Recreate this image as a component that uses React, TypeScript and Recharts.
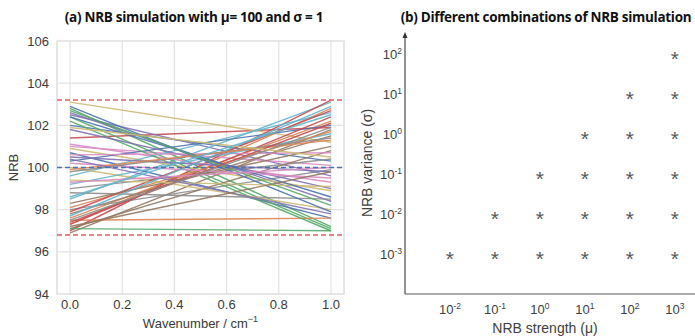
import { LineChart, Line, XAxis, YAxis, CartesianGrid, ReferenceLine, ReferenceArea, ScatterChart, Scatter } from "recharts";

// panel (a): NRB baselines, value at wavenumber 0 and at 1
const NRB_START = [
  102.0, 97.3, 102.8, 101.4, 102.5, 96.9, 101.0, 99.0, 103.1, 98.5,
  100.7, 97.6, 102.4, 97.0, 102.6, 97.8, 101.1, 98.0, 100.9, 99.6,
  100.3, 97.5, 102.2, 97.3, 101.8, 97.1, 100.6, 98.8, 100.0, 99.2,
  102.9, 98.1, 97.1, 97.9, 100.5, 98.3, 100.2, 99.8, 99.4, 97.7,
  102.4, 99.9, 102.7, 97.4, 100.4, 97.2, 99.3, 97.5, 101.9, 98.6,
];
const NRB_END = [
  100.3, 102.8, 97.2, 101.9, 99.6, 101.8, 100.1, 100.4, 101.2, 103.1,
  97.6, 102.2, 97.1, 103.2, 98.4, 101.5, 99.3, 99.9, 98.9, 102.6,
  102.0, 97.6, 97.0, 102.4, 99.0, 100.8, 100.7, 98.5, 98.0, 101.6,
  97.9, 101.7, 97.0, 102.7, 99.8, 101.0, 99.5, 101.4, 99.1, 102.9,
  98.6, 101.3, 98.2, 102.1, 97.8, 99.8, 100.0, 101.9, 100.5, 102.5,
];
const WAVENUMBERS = [0, 1];
const X_TICKS = [0, 0.2, 0.4, 0.6, 0.8, 1.0];
const Y_TICKS = [94, 96, 98, 100, 102, 104, 106];
const MEAN_LEVEL = 100;
const UPPER_LEVEL = 103.2;
const LOWER_LEVEL = 96.8;

// panel (b): simulated (mu, sigma) combinations
const COMBOS: [number, number][] = [
  [0.01, 0.001],
  [0.1, 0.001], [0.1, 0.01],
  [1, 0.001], [1, 0.01], [1, 0.1],
  [10, 0.001], [10, 0.01], [10, 0.1], [10, 1],
  [100, 0.001], [100, 0.01], [100, 0.1], [100, 1], [100, 10],
  [1000, 0.001], [1000, 0.01], [1000, 0.1], [1000, 1], [1000, 10], [1000, 100],
];
const MU_TICKS = [0.01, 0.1, 1, 10, 100, 1000];
const SIGMA_TICKS = [0.001, 0.01, 0.1, 1, 10, 100];

const PALETTE = ["#4C72B0", "#DD8452", "#55A868", "#C44E52", "#8172B3", "#937860", "#DA8BC3", "#8C8C8C", "#CCB974", "#64B5CD"];

const lineData = WAVENUMBERS.map((x, i) => {
  const row: Record<string, number> = { x };
  (i === 0 ? NRB_START : NRB_END).forEach((v, k) => (row["s" + k] = v));
  return row;
});
const scatterData = COMBOS.map(([mu, sigma]) => ({ mu, sigma }));

const GRID = "#e3e3e3";
const SANS = "'Liberation Sans', Arial, sans-serif";
const tickStyle = { fontSize: 13, fill: "#3a3a3a", fontFamily: SANS };
const titleStyle = {
  position: "absolute" as const,
  top: 8,
  textAlign: "center" as const,
  fontFamily: "'Open Sans', sans-serif",
  fontWeight: 700,
  fontSize: 13.5,
  letterSpacing: -0.3,
  color: "#111",
};

function PowTick({ x, y, payload, side }: any) {
  const exp = Math.round(Math.log10(payload.value));
  const props = side === "x" ? { x, y: y + 18, textAnchor: "middle" as const } : { x, y: y + 5, textAnchor: "end" as const };
  return (
    <text {...props} fontSize={13} fill="#404040" fontFamily={SANS}>
      10<tspan dy={-5} fontSize={8.5}>{exp < 0 ? "-" + Math.abs(exp) : exp}</tspan>
    </text>
  );
}

function Star({ cx, cy }: any) {
  return (
    <text x={cx} y={cy + 12} textAnchor="middle" fontSize={21} fill="#5a5a5a" fontFamily={SANS}>
      *
    </text>
  );
}

export default function App() {
  return (
    <div style={{ position: "absolute", left: 0, top: 0, width: 695, height: 336, background: "#fff", overflow: "hidden" }}>
      <div style={{ ...titleStyle, left: 0, width: 388 }}>(a) NRB simulation with μ= 100 and σ = 1</div>
      <div style={{ ...titleStyle, left: 396, width: 300 }}>(b) Different combinations of NRB simulation</div>

      <div style={{ position: "absolute", left: 0, top: 0 }}>
        <LineChart width={350} height={336} data={lineData} margin={{ top: 41, right: 6, bottom: 0, left: 0 }}>
          <CartesianGrid stroke={GRID} strokeWidth={1.2} />
          <XAxis
            dataKey="x"
            type="number"
            domain={[-0.05, 1.05]}
            ticks={X_TICKS}
            tickFormatter={(v: number) => v.toFixed(1)}
            tickLine={false}
            axisLine={false}
            tickMargin={0}
            height={42}
            tick={tickStyle}
            label={{
              content: ({ viewBox }: any) => (
                <text x={viewBox.x + viewBox.width / 2} y={viewBox.y + 34} textAnchor="middle" fontSize={13} fill="#3a3a3a" fontFamily={SANS}>
                  Wavenumber / cm<tspan dy={-6} fontSize={9}>−1</tspan>
                </text>
              ),
            }}
          />
          <YAxis
            type="number"
            domain={[94, 106]}
            ticks={Y_TICKS}
            width={57}
            tickLine={false}
            axisLine={false}
            tick={tickStyle}
            label={{
              content: ({ viewBox }: any) => (
                <text transform={`translate(${viewBox.x + 18},${viewBox.y + viewBox.height / 2}) rotate(-90)`} textAnchor="middle" fontSize={13} fill="#3a3a3a" fontFamily={SANS}>
                  NRB
                </text>
              ),
            }}
          />
          <ReferenceArea x1={-0.05} x2={1.05} y1={94} y2={106} fill="none" stroke={GRID} strokeWidth={1.5} />
          {NRB_START.map((_, k) => (
            <Line
              key={k}
              dataKey={"s" + k}
              stroke={PALETTE[k % PALETTE.length]}
              strokeWidth={1.4}
              strokeOpacity={0.9}
              dot={false}
              isAnimationActive={false}
            />
          ))}
          <ReferenceLine y={UPPER_LEVEL} stroke="#d9605f" strokeDasharray="5 3" strokeWidth={1.4} />
          <ReferenceLine y={LOWER_LEVEL} stroke="#d9605f" strokeDasharray="5 3" strokeWidth={1.4} />
          <ReferenceLine y={MEAN_LEVEL} stroke="#4C72B0" strokeDasharray="5 3" strokeWidth={1.4} />
        </LineChart>
      </div>

      <div style={{ position: "absolute", left: 340, top: 0 }}>
        <ScatterChart width={355} height={336} margin={{ top: 36, right: 0, bottom: 0, left: 0 }}>
          <XAxis
            dataKey="mu"
            type="number"
            scale="log"
            domain={[0.001, Math.pow(10, 3.45)]}
            allowDataOverflow
            ticks={MU_TICKS}
            height={42}
            tickLine={false}
            tickSize={0}
            axisLine={{ stroke: "#8f8f8f", strokeWidth: 1.5 }}
            tick={<PowTick side="x" />}
            label={{
              content: ({ viewBox }: any) => (
                <text x={viewBox.x + 140} y={viewBox.y + 39} textAnchor="middle" fontSize={14} fill="#404040" fontFamily={SANS}>
                  NRB strength (μ)
                </text>
              ),
            }}
          />
          <YAxis
            dataKey="sigma"
            type="number"
            scale="log"
            domain={[0.0001, Math.pow(10, 2.45)]}
            allowDataOverflow
            ticks={SIGMA_TICKS}
            width={65}
            tickLine={false}
            tickSize={0}
            tickMargin={3}
            axisLine={{ stroke: "#6f6f6f", strokeWidth: 1.5 }}
            tick={<PowTick side="y" />}
            label={{
              content: ({ viewBox }: any) => {
                const ax = viewBox.x + viewBox.width;
                return (
                  <g>
                    <polygon points={`${ax},${viewBox.y - 4} ${ax - 2.5},${viewBox.y + 2} ${ax + 2.5},${viewBox.y + 2}`} fill="#333" />
                    <text transform={`translate(${viewBox.x + 32},${viewBox.y + 127}) rotate(-90)`} textAnchor="middle" fontSize={14} fill="#404040" fontFamily={SANS}>
                      NRB variance (σ)
                    </text>
                  </g>
                );
              },
            }}
          />
          <Scatter data={scatterData} dataKey="sigma" shape={<Star />} isAnimationActive={false} />
        </ScatterChart>
      </div>
    </div>
  );
}
